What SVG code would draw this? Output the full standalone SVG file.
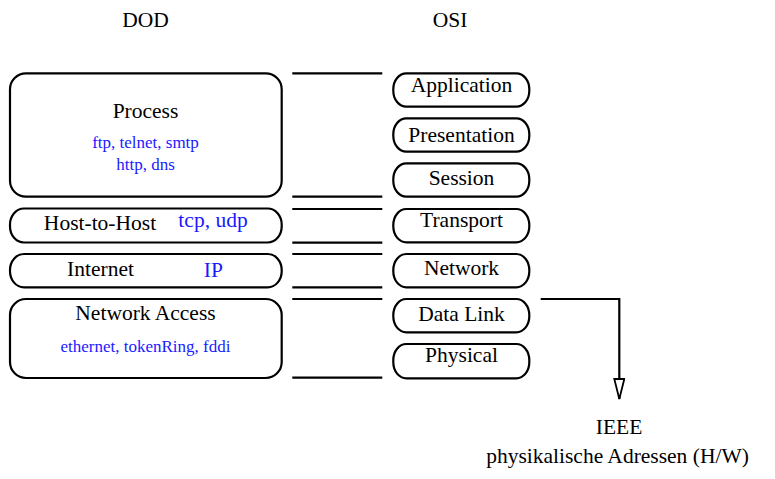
<svg xmlns="http://www.w3.org/2000/svg" width="775" height="479" viewBox="0 0 775 479" font-family="'Liberation Serif', 'Times New Roman', Times, serif">
<defs>
<style>
.box{fill:#fff;stroke:#000;stroke-width:2.2}
.ln{stroke:#000;stroke-width:2.2;fill:none}
text{font-family:'Liberation Serif', 'Times New Roman', Times, serif;fill:#000;text-anchor:middle}
.t{font-size:21.5px}
.b{fill:#1a1aff}
.s{font-size:17px}
</style>
<marker id="ah" viewBox="0 0 22 12" refX="21" refY="6" markerWidth="22" markerHeight="12" markerUnits="userSpaceOnUse" orient="auto">
<path d="M1,1 L1,11 L21,6 Z" fill="#fff" stroke="#000" stroke-width="1.8"/>
</marker>
</defs>
<rect width="775" height="479" fill="#fff"/>
<text class="t" x="145.5" y="27.3">DOD</text>
<text class="t" x="450" y="27.3">OSI</text>
<g id="process"><rect class="box" x="10" y="73.3" width="271.7" height="123.4" rx="16" ry="16"/><text class="t" x="145.5" y="118.3">Process</text><text class="s b" x="145.5" y="148.3">ftp, telnet, smtp</text><text class="s b" x="145.5" y="170">http, dns</text></g>
<g id="host"><rect class="box" x="10" y="208.5" width="271.7" height="34" rx="14" ry="16"/><text class="t" x="100" y="230">Host-to-Host</text><text class="t b" x="213" y="226.7">tcp, udp</text></g>
<g id="internet"><rect class="box" x="10" y="254" width="271.7" height="33.3" rx="14" ry="16"/><text class="t" x="100.5" y="275.7">Internet</text><text class="t b" x="213.3" y="276.7">IP</text></g>
<g id="netaccess"><rect class="box" x="10" y="299" width="271.7" height="79" rx="16" ry="16"/><text class="t" x="145.5" y="320">Network Access</text><text class="s b" x="145.5" y="351.7">ethernet, tokenRing, fddi</text></g>
<g id="application"><rect class="box" x="393.3" y="73.3" width="136" height="33.4" rx="13" ry="16"/><text class="t" x="461.5" y="91.7">Application</text></g>
<g id="presentation"><rect class="box" x="393.3" y="118.3" width="136" height="33.4" rx="13" ry="16"/><text class="t" x="461.5" y="141.7">Presentation</text></g>
<g id="session"><rect class="box" x="393.3" y="163.3" width="136" height="33.4" rx="13" ry="16"/><text class="t" x="461.5" y="185">Session</text></g>
<g id="transport"><rect class="box" x="393.3" y="209" width="136" height="33.3" rx="13" ry="16"/><text class="t" x="461.5" y="226.7">Transport</text></g>
<g id="network"><rect class="box" x="393.3" y="254" width="136" height="33.3" rx="13" ry="16"/><text class="t" x="461.5" y="275">Network</text></g>
<g id="datalink"><rect class="box" x="393.3" y="299" width="136" height="33.3" rx="13" ry="16"/><text class="t" x="461.5" y="321">Data Link</text></g>
<g id="physical"><rect class="box" x="393.3" y="344" width="136" height="34.3" rx="13" ry="16"/><text class="t" x="461.5" y="361.7">Physical</text></g>
<g id="ieee"><text class="t" x="619" y="434.3">IEEE</text><text class="t" x="617.5" y="463.3">physikalische Adressen (H/W)</text></g>
<g id="connectors">
<line class="ln" x1="292.3" y1="73.3" x2="382.3" y2="73.3"/>
<line class="ln" x1="292.3" y1="196.7" x2="382.3" y2="196.7"/>
<line class="ln" x1="292.3" y1="209" x2="382.3" y2="209"/>
<line class="ln" x1="292.3" y1="242.7" x2="382.3" y2="242.7"/>
<line class="ln" x1="292.3" y1="254" x2="382.3" y2="254"/>
<line class="ln" x1="292.3" y1="287.3" x2="382.3" y2="287.3"/>
<line class="ln" x1="292.3" y1="299" x2="382.3" y2="299"/>
<line class="ln" x1="292.3" y1="377.7" x2="382.3" y2="377.7"/>
<path class="ln" d="M540.7,299 H619.3 V399" marker-end="url(#ah)"/>
</g>
</svg>
